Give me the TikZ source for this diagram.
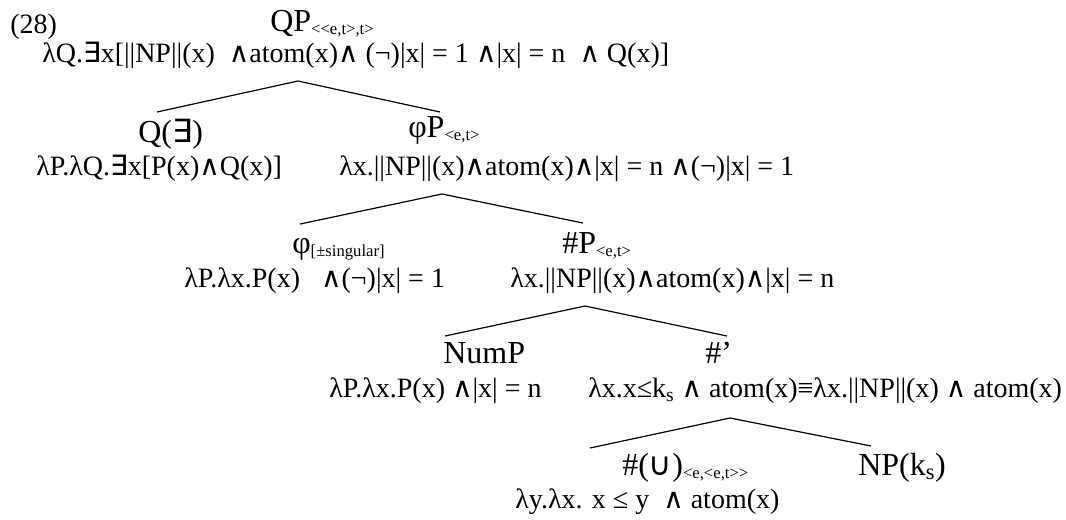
\documentclass[tikz,border=0pt]{standalone}
\usepackage{fontspec}
\setmainfont{Liberation Serif}
\newfontfamily\symf{DejaVu Sans}
\usetikzlibrary{calc}
\newcommand\sex{{\symf ∃}}
\newcommand\sand{{\symf ∧}}
\newcommand\scup{{\symf ∪}}
\newcommand\tsub[1]{\raisebox{-0.25ex}{\fontsize{12.5}{12.5}\selectfont #1}}
\tikzset{
  lab/.style={anchor=base west, inner sep=0pt, font=\fontsize{24}{24}\selectfont},
  sem/.style={anchor=base west, inner sep=0pt, font=\fontsize{21}{21}\selectfont},
  branch/.style={line width=0.9pt}
}

\begin{document}
\begin{tikzpicture}[x=0.75pt,y=-0.75pt]
\useasboundingbox (0,0) rectangle (1066,519);

\node[lab, font=\fontsize{21}{21}\selectfont] (ex28) at (10,33) {(28)};

% top
\node[lab] (qp) at (270,31) {QP\tsub{{<}{<}e,t{>},t{>}}};
\node[sem] (f0) at (42,62) {λQ.\sex x[||NP||(x) \ \sand atom(x)\sand\ (¬)|x| = 1 \sand|x| = n \ \sand\ Q(x)]};

% level 1
\node[lab] (q) at (138,142) {Q(\sex)};
\node[lab] (phip) at (408,137) {φP\tsub{<e,t>}};
\node[sem] (f1a) at (36,175) {λP.λQ.\sex x[P(x)\sand Q(x)]};
\node[sem] (f1b) at (339,175) {λx.||NP||(x)\sand atom(x)\sand|x| = n \sand(¬)|x| = 1};

% level 2
\node[lab] (phi) at (292,253) {φ\tsub{[±singular]}};
\node[lab] (hp) at (562,253) {\#P\tsub{<e,t>}};
\node[sem] (f2a) at (184,287) {λP.λx.P(x) \ \ \sand (¬)|x| = 1};
\node[sem] (f2b) at (510,287) {λx.||NP||(x)\sand atom(x)\sand|x| = n};

% level 3
\node[lab] (nump) at (443,363) {NumP};
\node[lab] (hbar) at (705,363) {\#’};
\node[sem] (f3a) at (329,397) {λP.λx.P(x) \sand|x| = n};
\node[sem] (f3b) at (588,397) {λx.x≤k\textsubscript{s} \sand\ atom(x)≡λx.||NP||(x) \sand\ atom(x)};

% level 4
\node[lab] (hcup) at (622,475) {\#(\scup)\tsub{{<}e,{<}e,t{>}{>}}};
\node[lab] (npk) at (858,475) {NP(k\textsubscript{s})};
\node[sem] (f4) at (515,508) {λy.λx. x ≤ y \ \sand\ atom(x)};

\coordinate (a0) at (298,81);  \coordinate (q-t) at (157,112);    \coordinate (phip-t) at (440,112);
\coordinate (a1) at (442,194); \coordinate (phi-t) at (300,224);  \coordinate (hp-t) at (583,223);
\coordinate (a2) at (585,306); \coordinate (nump-t) at (445,336); \coordinate (hbar-t) at (727,336);
\coordinate (a3) at (730,418); \coordinate (hcup-t) at (590,448); \coordinate (npk-t) at (871,446);

\foreach \p/\l/\r in {a0/q-t/phip-t, a1/phi-t/hp-t, a2/nump-t/hbar-t, a3/hcup-t/npk-t}
  \draw[branch] (\l) -- (\p) -- (\r);

\end{tikzpicture}
\end{document}
